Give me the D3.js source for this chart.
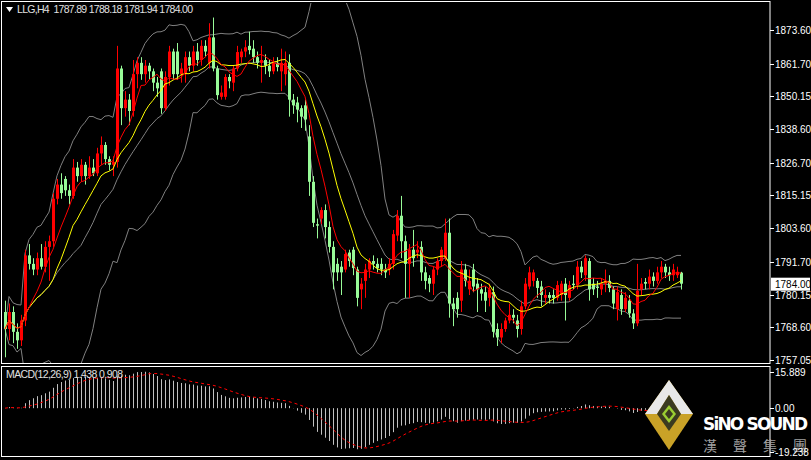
<!DOCTYPE html>
<html><head><meta charset="utf-8">
<script src="https://cdn.jsdelivr.net/npm/d3@7"></script>
<style>body{margin:0;background:#000;}svg{display:block;}</style>
</head><body>
<svg id="c" width="811" height="460"></svg>
<script>
const opens=[1774,1768,1774,1767,1764,1771,1794,1791,1789,1793,1790,1797,1799,1814,1819,1821,1817,1815,1825,1822,1826,1822,1825,1823,1830,1833,1828,1826,1827,1860,1846,1849,1845,1858,1862,1858,1861,1859,1855,1859,1846,1857,1866,
1866,1858,1858,1864,1861,1866,1863,1868,1862,1871,1860,1850,1850,1857,1855,1860,1864,1866,1868,1867,1864,1862,1863,1861,1859,1862,1859,1858,1862,1849,1848,1846,1847,1836,1820,1805,1807,1810,1804,1797,1791,1790,1789,1795,
1796,1789,1782,1785,1789,1792,1791,1791,1789,1789,1791,1801,1808,1799,1791,1796,1795,1797,1788,1786,1784,1789,1792,1793,1802,1777,1779,1778,1789,1782,1789,1784,1782,1781,1779,1781,1768,1765,1768,1771,1773,1771,1768,1776,
1783,1785,1785,1783,1779,1780,1780,1779,1780,1784,1779,1784,1783.5,1790,1787,1792,1784,1783,1782,1784,1785,1782,1775,1780,1775,1778,1773.5,1770,1782,1784.6,1784,1786.5,1785,1788,1790,1788,1787,1787,1787.89];
const closes=[1768,1774,1767,1764,1771,1794,1791,1789,1793,1790,1797,1799,1814,1819,1816,1817,1815,1825,1822,1826,1822,1825,1823,1830,1833,1828,1826,1827,1860,1846,1849,1845,1858,1862,1858,1861,1859,1855,1853,1846,1857,1866,1858,
1858,1860,1864,1861,1866,1863,1868,1866,1871,1860,1850.6,1851.5,1857,1855.5,1860,1865.8,1866,1867.5,1866.5,1864,1862,1863,1861,1859,1862,1860.5,1862,1862,1849,1847,1845.5,1843,1842,1820,1805.5,1804.5,1810,1804,1797,1788,1788,1788,1794.5,1792,
1789.5,1779,1784,1789,1792,1791,1789.5,1789,1788,1791,1801.5,1808,1799,1791,1796,1793,1796,1788,1785,1784,1789,1792,1796,1802,1777,1775,1775,1789,1785,1785,1783,1782,1780.5,1778,1782,1767,1765,1768,1771,1773,1772,1768,1776,1784,
1788,1788,1782.5,1780,1780,1779,1779,1783.5,1784,1780,1783.5,1783.5,1790,1788,1793,1782,1782,1782.5,1784,1785,1782.5,1777,1781,1775,1779,1773.5,1770,1781.5,1784,1784,1786.5,1785,1788,1790,1788,1787,1789,1788.2,1784.0];
const highs=[1778,1777,1776,1770,1773,1796,1798,1793,1795,1798,1799,1801,1816,1821,1823,1822,1819,1828,1827,1828,1827,1829,1828,1832,1836,1834,1829,1829,1868,1861,1852,1851,1863,1864,1864,1863,1862,1860,1857,1860,1859,1868,1867,
1869,1862,1866,1866,1868,1869,1870,1870,1876,1878,1861,1854,1858,1858,1861,1868,1867,1870,1873,1870,1866,1868,1865,1863,1864,1864,1867,1866,1865,1851,1850,1847,1849,1840,1822,1807,1811,1812,1806,1799,1793,1792,1796,1796,
1797,1790,1786,1791,1793,1794,1793,1793,1791,1793,1803,1810,1815,1801,1798,1803,1799,1799,1790,1787,1790,1793,1797,1807,1807,1779,1781,1792,1791,1789,1791,1786,1784,1783,1784,1783,1770,1770,1772,1777,1775,1773,1778,1786,
1790,1789,1786,1785,1782,1781,1782,1785,1785,1786,1785,1787,1792,1792,1794,1793,1786,1785,1786,1789,1787,1783,1783,1782,1781,1780,1775,1791,1786,1786,1789,1788,1790,1792,1791,1790,1791,1790,1788.18];
const lows=[1758,1764,1763,1761,1762,1769,1789,1787,1787,1789,1788,1785,1797,1812,1814,1815,1812,1814,1820,1820,1819,1821,1822,1822,1826,1826,1824,1822,1825,1840,1843,1840,1843,1853,1856,1855,1856,1852,1850,1844,1845,1854,1856,
1856,1855,1855,1859,1859,1861,1861,1864,1860,1859,1849,1849,1849,1853,1852,1859,1862,1864,1865,1862,1860,1855,1858,1857,1858,1859,1852,1854,1843,1844,1841,1839,1838,1815,1804,1800,1805,1800,1795,1782,1785,1780,1788,1790,
1787,1776,1775,1779,1786,1789,1788,1787,1786,1787,1789,1799,1793,1779,1779,1790,1793,1785,1782,1781,1780,1787,1790,1792,1772,1769,1772,1774,1783,1780,1781,1774,1778,1774,1776,1765,1762,1763,1767,1770,1770,1765,1766,1775,
1782,1783,1779,1776,1777,1777,1777,1778,1778,1771,1778,1782,1782,1786,1785,1778,1780,1779,1780,1781,1781,1775,1771,1773,1774,1772,1768,1769,1780,1782,1782,1783,1784,1786,1786,1785,1785,1786,1781.94];
const priceTicks=[1873.60,1861.70,1850.15,1838.60,1826.70,1815.15,1803.60,1791.70,1780.15,1768.60,1757.05];
const macdTicks=[15.889,0.00,-19.238];
const lastPrice=1784.00;
const headerText="LLG,H4  1787.89 1788.18 1781.94 1784.00";
const macdLabel="MACD(12,26,9) 1.438 0.908";

const svg=d3.select("#c");
const W=811,H=460,axisX=770;
const n=closes.length;
const x=d3.scaleLinear().domain([0,n-1]).range([5,681]);
const y=d3.scaleLinear().domain([1757.05,1873.60]).range([360,30]);
const ym=d3.scaleLinear().domain([-19.238,15.889]).range([452,372]);

function sma(a,p){return a.map((_,i)=>{const s=a.slice(Math.max(0,i-p+1),i+1);return d3.mean(s);});}
function ema(a,p){const k=2/(p+1);let r=[];a.forEach((v,i)=>r.push(i?v*k+r[i-1]*(1-k):v));return r;}
const ma7=sma(closes,7), ma13=sma(closes,13), mid=sma(closes,20);
const sd=closes.map((_,i)=>d3.deviation(closes.slice(Math.max(0,i-19),i+1))||0);
const up=mid.map((m,i)=>m+2*sd[i]), lo=mid.map((m,i)=>m-2*sd[i]);
const e12=ema(closes,12),e26=ema(closes,26);
const macd=e12.map((v,i)=>v-e26[i]);
const sig=sma(macd,9);

svg.append("rect").attr("width",W).attr("height",H).attr("fill","#000");
svg.append("clipPath").attr("id","cm").append("rect").attr("x",3).attr("y",3).attr("width",axisX-4).attr("height",360);
svg.append("clipPath").attr("id","cd").append("rect").attr("x",3).attr("y",368).attr("width",axisX-4).attr("height",88);
const gM=svg.append("g").attr("clip-path","url(#cm)");
const line=(arr)=>d3.line().x((d,i)=>x(i)).y(d=>y(d))(arr);
[up,mid,lo].forEach(a=>gM.append("path").attr("d",line(a)).attr("fill","none").attr("stroke","#808080").attr("stroke-width",1));
const cg=gM.append("g");
closes.forEach((c,i)=>{
  const o=opens[i], bull=c>=o, col=bull?"#ff0000":"#98fb98";
  const xi=Math.round(x(i));
  cg.append("line").attr("x1",xi+0.5).attr("x2",xi+0.5).attr("y1",y(highs[i])).attr("y2",y(lows[i])).attr("stroke",col);
  const t=y(Math.max(o,c)),b=y(Math.min(o,c));
  cg.append("rect").attr("x",xi-1).attr("y",t).attr("width",3).attr("height",Math.max(1,b-t)).attr("fill",col);
});
gM.append("path").attr("d",line(ma13)).attr("fill","none").attr("stroke","#ffff00").attr("stroke-width",1);
gM.append("path").attr("d",line(ma7)).attr("fill","none").attr("stroke","#ff0000").attr("stroke-width",1);

const gD=svg.append("g").attr("clip-path","url(#cd)");
macd.forEach((v,i)=>gD.append("line").attr("x1",Math.round(x(i))+0.5).attr("x2",Math.round(x(i))+0.5).attr("y1",ym(0)).attr("y2",ym(v)).attr("stroke","#c0c0c0"));
gD.append("path").attr("d",d3.line().x((d,i)=>x(i)).y(d=>ym(d))(sig)).attr("fill","none").attr("stroke","#ff0000").attr("stroke-dasharray","3,3");

const fr=svg.append("g").attr("fill","none").attr("stroke","#fff");
fr.append("rect").attr("x",1.5).attr("y",1.5).attr("width",axisX-1.5).attr("height",362);
fr.append("rect").attr("x",1.5).attr("y",366.5).attr("width",axisX-1.5).attr("height",90);
const F="'Liberation Sans',Arial,sans-serif";
// logo (drawn first so axis text sits on top)
const lg=svg.append("g").attr("transform","translate(669,417)");
lg.append("path").attr("d","M0,-37 L24,-3 L0,33 L-24,-3 Z").attr("fill","#c9a227");
lg.append("path").attr("d","M0,-37 L24,-3 L12,-3 L0,-22 L-12,-3 L-24,-3 Z").attr("fill","#e8e8e8");
lg.append("path").attr("d","M0,-22 L12,-3 L0,14 L-12,-3 Z").attr("fill","#3a3a20");
lg.append("path").attr("d","M0,-12 L7,-3 L0,6 L-7,-3 Z").attr("fill","#9acd32");
lg.append("path").attr("d","M0,-8 L4,-3 L0,2 L-4,-3 Z").attr("fill","#3a3a20");
svg.append("text").attr("x",703).attr("y",430).attr("font-family","'DejaVu Sans',sans-serif").attr("font-weight","bold").attr("font-size",17).attr("fill","#fff").attr("textLength",105).text("SiNO SOUND");
svg.append("text").attr("x",703).attr("y",451).attr("font-family","'Noto Sans CJK TC',sans-serif").attr("font-size",14).attr("fill","#a0a0a0").attr("textLength",104).text("漢聲集團");

const ax=svg.append("g").attr("font-family",F).attr("font-size",10).attr("fill","#fff");
priceTicks.forEach(t=>{ax.append("line").attr("x1",axisX).attr("x2",axisX+4).attr("y1",Math.round(y(t))+0.5).attr("y2",Math.round(y(t))+0.5).attr("stroke","#fff");
 ax.append("text").attr("x",axisX+5).attr("y",y(t)+4).text(t.toFixed(2));});
macdTicks.forEach(t=>{ax.append("line").attr("x1",axisX).attr("x2",axisX+4).attr("y1",Math.round(ym(t))+0.5).attr("y2",Math.round(ym(t))+0.5).attr("stroke","#fff");
 ax.append("text").attr("x",axisX+5).attr("y",ym(t)+4).text(t===0?"0.00":t.toFixed(3));});
svg.append("rect").attr("x",axisX+1).attr("y",y(lastPrice)-6).attr("width",39).attr("height",13).attr("fill","#fff");
svg.append("text").attr("x",axisX+5).attr("y",y(lastPrice)+4).attr("font-family",F).attr("font-size",10).attr("fill","#000").text(lastPrice.toFixed(2));
svg.append("path").attr("d","M6,7 L13,7 L9.5,12 Z").attr("fill","#fff");
svg.append("text").attr("x",17).attr("y",13).attr("font-family",F).attr("font-size",10.5).attr("fill","#e0e0e0").style("white-space","pre").attr("textLength",176).text(headerText);
svg.append("text").attr("x",6).attr("y",378).attr("font-family",F).attr("font-size",10.5).attr("fill","#e0e0e0").attr("textLength",117).text(macdLabel);
</script>
</body></html>
